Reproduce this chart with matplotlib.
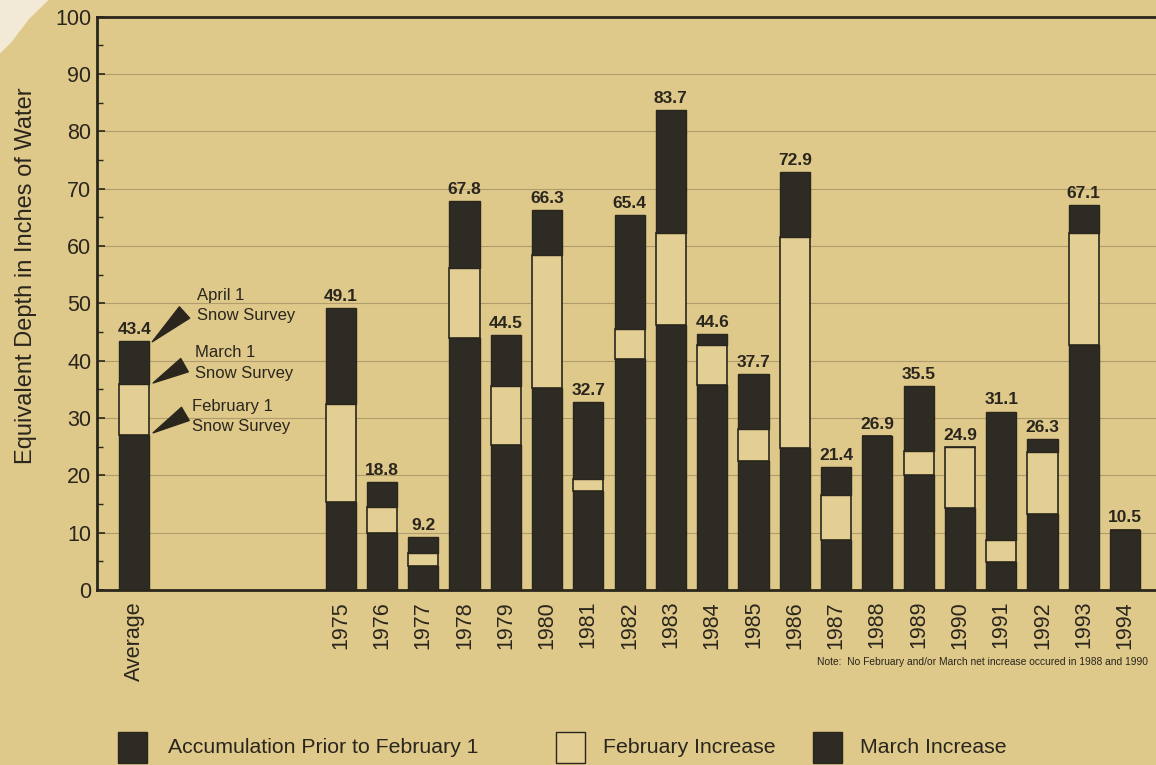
import matplotlib.pyplot as plt
from matplotlib.patches import Rectangle, Polygon

plt.rcParams['font.family'] = ['Liberation Sans', 'DejaVu Sans']

# data (inches of water)
Labels = ['Average', '1975', '1976', '1977', '1978', '1979', '1980', '1981', '1982', '1983',
          '1984', '1985', '1986', '1987', '1988', '1989', '1990', '1991', '1992', '1993', '1994']
Prior = [27.1, 15.4, 10.0, 4.1, 43.9, 25.3, 35.3, 17.2, 40.2, 46.2,
         35.8, 22.4, 24.8, 8.7, 26.9, 20.1, 14.2, 4.8, 13.3, 42.7, 10.5]
FebInc = [8.8, 17.0, 4.4, 2.4, 12.3, 10.3, 23.2, 2.2, 5.4, 16.1,
          6.9, 5.7, 36.8, 7.9, 0.0, 4.1, 10.7, 3.9, 10.8, 19.6, 0.0]
MarInc = [7.5, 16.7, 4.4, 2.7, 11.6, 8.9, 7.8, 13.3, 19.8, 21.4,
          1.9, 9.6, 11.3, 4.8, 0.0, 11.3, 0.0, 22.4, 2.2, 4.8, 0.0]
Totals = [43.4, 49.1, 18.8, 9.2, 67.8, 44.5, 66.3, 32.7, 65.4, 83.7,
          44.6, 37.7, 72.9, 21.4, 26.9, 35.5, 24.9, 31.1, 26.3, 67.1, 10.5]

BG = '#dec88a'
DARK = '#2e2b24'
INK = '#2a261d'

# Average sits apart, years start at slot 5
XPos = [0] + [5 + i for i in range(len(Labels) - 1)]
FebBottom = Prior
MarBottom = [p + f for p, f in zip(Prior, FebInc)]

fig = plt.figure(figsize=(11.56, 7.65), dpi=100, facecolor=BG)

# torn paper corner, top left
fig.patches.append(Polygon([(0, 1), (0.042, 1), (0.025, 0.975), (0.01, 0.945), (0, 0.93)],
                           closed=True, transform=fig.transFigure, facecolor='#f2ead6',
                           edgecolor='none'))

ax = fig.add_axes([0.0839, 0.229, 0.925, 0.749])
ax.set_facecolor(BG)

ax.bar(XPos, Prior, width=0.73, color=DARK, edgecolor=INK, linewidth=1, zorder=3)
ax.bar(XPos, FebInc, bottom=FebBottom, width=0.73, color='#e3cf93', edgecolor=INK, linewidth=1.2, zorder=3)
ax.bar(XPos, MarInc, bottom=MarBottom, width=0.73, color=DARK, edgecolor=INK, linewidth=1, zorder=3)

for X, T in zip(XPos, Totals):
    ax.annotate(f'{T:.1f}', (X, T), xytext=(0, 3), textcoords='offset points',
                ha='center', va='bottom', fontsize=12.5, fontweight='bold', color=INK)

ax.set_xlim(-0.9, 25.0)
ax.set_ylim(0, 100)
ax.set_yticks(range(0, 101, 10))
ax.set_yticks(range(5, 100, 10), minor=True)
ax.tick_params(axis='y', which='major', direction='in', length=6, width=1.2, pad=4,
               labelsize=15.5, labelcolor=INK, color=INK)
ax.tick_params(axis='y', which='minor', direction='in', length=4, width=1, color=INK)
ax.set_xticks(XPos)
ax.set_xticklabels(Labels, rotation=90, va='top', ha='center')
ax.tick_params(axis='x', length=0, pad=8, labelsize=15.5, labelcolor=INK)
ax.grid(axis='y', color='#9c8b5e', linewidth=0.8, alpha=0.7, zorder=0)

for Side in ['left', 'top', 'bottom', 'right']:
    ax.spines[Side].set_linewidth(2)
    ax.spines[Side].set_color(INK)

ax.set_ylabel('Equivalent Depth in Inches of Water', fontsize=17, color=INK)
ax.yaxis.set_label_coords(-0.056, 0.548)

# survey pointers on the average bar
Pointers = [
    ('April 1\nSnow Survey', (0.44, 43.3), (1.22, 48.4), (1.53, 49.6)),
    ('March 1\nSnow Survey', (0.46, 36.1), (1.22, 39.2), (1.48, 39.6)),
    ('February 1\nSnow Survey', (0.46, 27.4), (1.24, 30.7), (1.41, 30.2)),
]
for Txt, Tip, Tail, TxtPos in Pointers:
    ax.annotate('', xy=Tip, xytext=Tail,
                arrowprops=dict(arrowstyle='wedge,tail_width=0.55', color=INK,
                                shrinkA=0, shrinkB=0, mutation_scale=20), zorder=4)
    ax.text(TxtPos[0], TxtPos[1], Txt, ha='left', va='center', fontsize=12,
            linespacing=1.45, color=INK, zorder=4)

fig.text(0.707, 0.135, 'Note:  No February and/or March net increase occured in 1988 and 1990',
         fontsize=7.4, color=INK, va='center', ha='left')

# legend row along the bottom
LegendItems = [
    (0.102, DARK, 'Accumulation Prior to February 1', 0.145),
    (0.481, '#e3cf93', 'February Increase', 0.522),
    (0.703, DARK, 'March Increase', 0.744),
]
for BoxX, Col, Txt, TxtX in LegendItems:
    fig.patches.append(Rectangle((BoxX, 0.003), 0.025, 0.040, transform=fig.transFigure,
                                 facecolor=Col, edgecolor=INK, linewidth=1))
    fig.text(TxtX, 0.0235, Txt, fontsize=15.3, color=INK, va='center', ha='left')

fig.savefig('out.png', dpi=100, facecolor=BG)
